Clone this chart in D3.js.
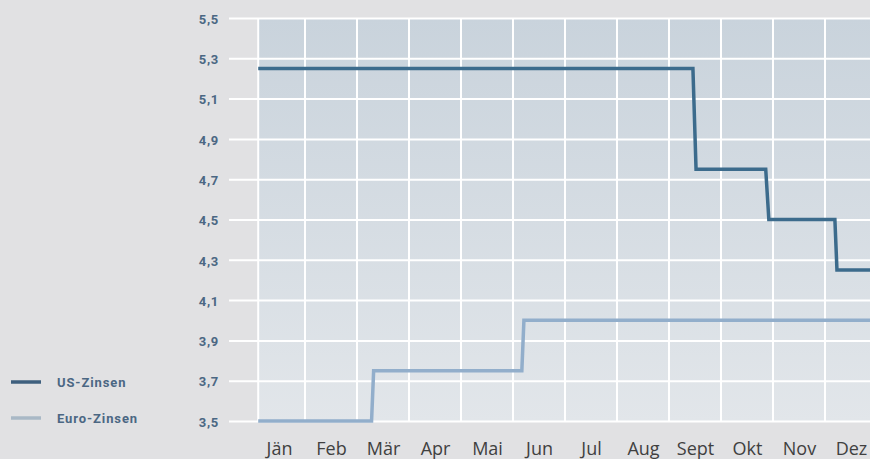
<!DOCTYPE html>
<html>
<head>
<meta charset="utf-8">
<script src="https://cdn.jsdelivr.net/npm/d3@7"></script>
<style>
  body { margin: 0; background: #e1e1e3; }
  svg { display: block; }
  .ylab text { font-family: Roboto, sans-serif; font-weight: 700; font-size: 13px; fill: #4b6783; letter-spacing: 0.7px; }
  .xlab text { font-family: "Open Sans", sans-serif; font-size: 18px; fill: #404040; }
  .legend text { font-family: Roboto, sans-serif; font-weight: 700; font-size: 13px; fill: #4b6783; letter-spacing: 0.9px; }
</style>
</head>
<body>
<div class="chart"></div>
<script>
// months on the x axis
var months = ["Jän", "Feb", "Mär", "Apr", "Mai", "Jun", "Jul", "Aug", "Sept", "Okt", "Nov", "Dez"]
var yTicks = [3.5, 3.7, 3.9, 4.1, 4.3, 4.5, 4.7, 4.9, 5.1, 5.3, 5.5]

// x position in months since start of year
var usMonth = [0.1, 8.46, 8.52, 9.86, 9.92, 11.19, 11.23, 12]
var usRate = [5.25, 5.25, 4.75, 4.75, 4.5, 4.5, 4.25, 4.25]

var euroMonth = [0.1, 2.28, 2.32, 5.17, 5.21, 12]
var euroRate = [3.5, 3.5, 3.75, 3.75, 4.0, 4.0]

var seriesNames = ["US-Zinsen", "Euro-Zinsen"]
var seriesColors = ["#3c6b8c", "#92aecb"]
var legendColors = ["#3e5f7e", "#a9b8c6"]

var width = 870, height = 459
var svg = d3.select(".chart").append("svg").attr("width", width).attr("height", height)

var x = d3.scaleLinear().domain([0, 12]).range([253, 877])
var y = d3.scaleLinear().domain([3.5, 5.5]).range([421, 18])

var plotLeft = x(0.1)
var fmt = d3.formatLocale({decimal: ",", thousands: ".", grouping: [3], currency: ["", "€"]}).format(".1f")

var defs = svg.append("defs")
var grad = defs.append("linearGradient").attr("id", "bg").attr("x1", 0).attr("x2", 0).attr("y1", 0).attr("y2", 1)
grad.append("stop").attr("offset", "0%").attr("stop-color", "#c9d3dc")
grad.append("stop").attr("offset", "100%").attr("stop-color", "#e2e6ea")

svg.append("rect")
    .attr("x", plotLeft).attr("y", y(5.5))
    .attr("width", width - plotLeft).attr("height", y(3.5) - y(5.5) + 1)
    .attr("fill", "url(#bg)")

// horizontal grid + y labels
var yAxis = d3.axisLeft(y)
    .tickValues(yTicks)
    .tickFormat(fmt)
    .tickSizeInner(-(width - 229))
    .tickSizeOuter(0)
    .tickPadding(10)

var yg = svg.append("g").attr("class", "ylab")
    .attr("transform", "translate(229,0)")
    .call(yAxis)
yg.select(".domain").remove()
yg.selectAll("line").attr("stroke", "#ffffff").attr("stroke-width", 2)
yg.selectAll("text").attr("dy", "0.4em")

// vertical grid
var vTicks = [0.1].concat(d3.range(1, 12))
svg.append("g").selectAll("line")
    .data(vTicks)
    .enter().append("line")
    .attr("x1", function(d) { return x(d) }).attr("x2", function(d) { return x(d) })
    .attr("y1", y(5.5)).attr("y2", y(3.5))
    .attr("stroke", "#ffffff").attr("stroke-width", 2)

// month labels
var xAxis = d3.axisBottom(x)
    .tickValues(d3.range(12).map(function(d) { return d + 0.5 }))
    .tickFormat(function(d, i) { return months[i] })
    .tickSize(0)

var xg = svg.append("g").attr("class", "xlab")
    .attr("transform", "translate(0," + y(3.5) + ")")
    .call(xAxis)
xg.select(".domain").remove()
xg.selectAll("text").attr("y", 34).attr("dy", 0)

// lines
var line = d3.line()
    .x(function(d) { return x(d[0]) })
    .y(function(d) { return y(d[1]) })

var series = [d3.zip(usMonth, usRate), d3.zip(euroMonth, euroRate)]

svg.append("g").selectAll("path")
    .data(series.slice().reverse())
    .enter().append("path")
    .attr("d", line)
    .attr("fill", "none")
    .attr("stroke", function(d, i) { return seriesColors[1 - i] })
    .attr("stroke-width", 3.5)
    .attr("stroke-linejoin", "miter")

// legend
var legend = svg.append("g").attr("class", "legend")
var items = legend.selectAll("g")
    .data(seriesNames)
    .enter().append("g")
    .attr("transform", function(d, i) { return "translate(11," + (382 + i * 36) + ")" })

items.append("line")
    .attr("x1", 0).attr("x2", 30)
    .attr("stroke", function(d, i) { return legendColors[i] })
    .attr("stroke-width", 3.5)

items.append("text")
    .attr("x", 46).attr("y", 5)
    .text(function(d) { return d })
</script>
</body>
</html>
